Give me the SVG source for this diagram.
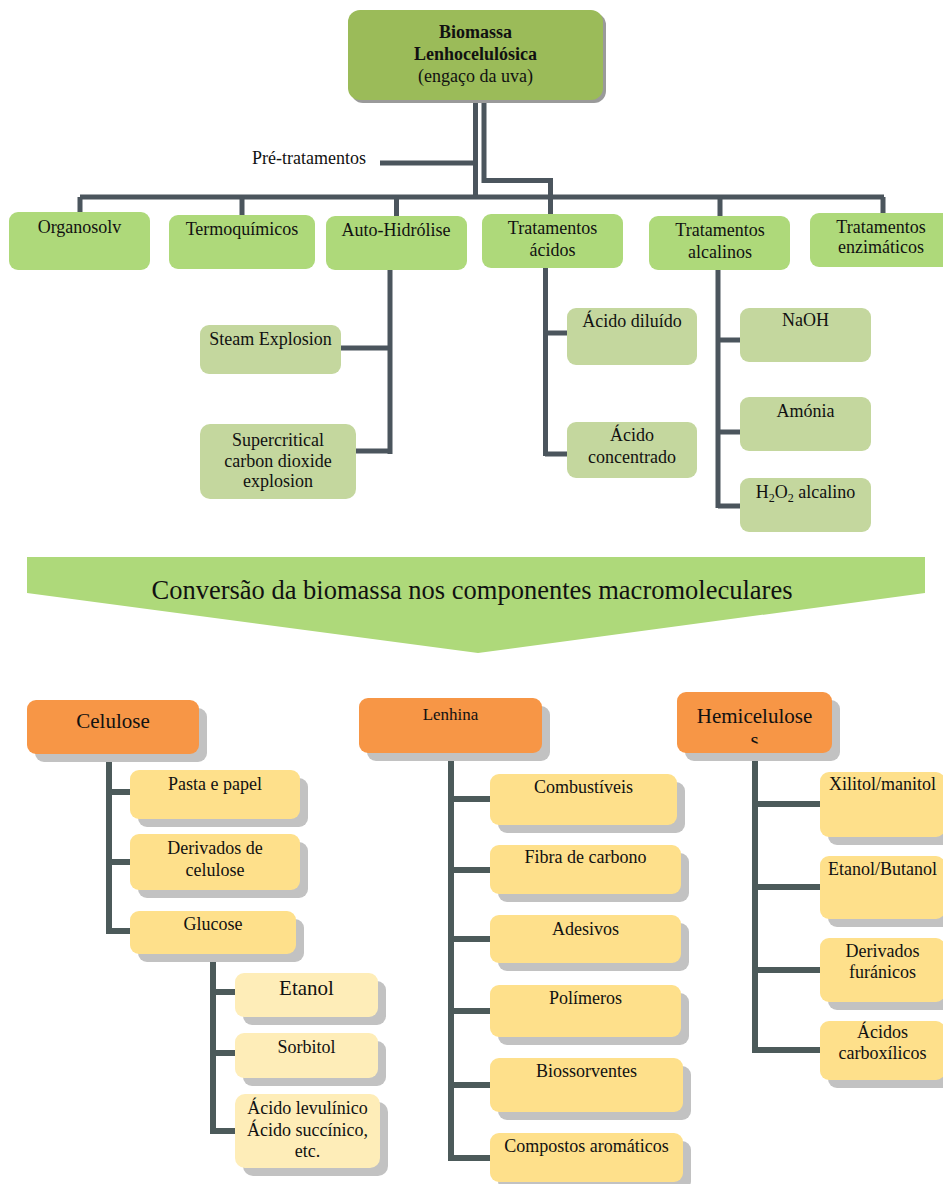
<svg xmlns="http://www.w3.org/2000/svg" width="943" height="1184" viewBox="0 0 943 1184">
<defs>
<style>
text{font-family:"Liberation Serif","Times New Roman",serif;font-size:18px;fill:#111;text-anchor:middle}
.b{font-weight:bold}
.big{font-size:21px}
.sm{font-size:17px}
.ban{font-size:26.5px}
.g1{fill:#9BBB59}
.g2{fill:#AED97A}
.g3{fill:#C4D79E}
.or{fill:#F79646}
.y1{fill:#FEE08B}
.y2{fill:#FEEDB8}
.sh{fill:#C2C2C2}
.shs{fill:#9A9A9A}
.c1{fill:none;stroke:#4B555D;stroke-width:5}
.c2{fill:none;stroke:#4C5A5A;stroke-width:6}
</style>
<clipPath id="hemiclip"><rect x="677" y="692" width="155" height="51.5"/></clipPath>
</defs>

<g id="connectors">
<path class="c1" d="M475.5,100V197M484,100V180.5H550.5V214"/>
<path class="c1" d="M380,163H475"/>
<path class="c1" stroke-width="6" d="M80,197H884"/>
<path class="c1" d="M80,197V212M242,197V215M396.5,197V216M720,197V216M883,197V213"/>
<path class="c1" stroke-width="6" d="M341,348H390M390,270V454M356,451H390"/>
<path class="c1" stroke-width="6" d="M545.5,268V456M545,333H567M545,454H567"/>
<path class="c1" stroke-width="6" d="M718,270V508M718,340H740M718,432H740M718,506H740"/>
<path class="c2" d="M109,754V931H130M109,792H130M109,862H130"/>
<path class="c2" d="M213,954V1131H235M213,992H235M213,1053H235"/>
<path class="c2" d="M451,753V1158H490M451,799H490M451,870H490M451,939H490M451,1011H490M451,1085H490"/>
<path class="c2" d="M755,753V1050H820M755,804H820M755,887H820M755,970H820"/>
</g>

<g id="biomassa">
<rect class="shs" x="351" y="13" width="255" height="90" rx="12"/>
<rect class="g1" x="348" y="10" width="255" height="90" rx="12"/>
<text class="b" x="475.5" y="38">Biomassa</text>
<text class="b" x="475.5" y="60">Lenhocelulósica</text>
<text x="475.5" y="82">(engaço da uva)</text>
</g>
<g id="pretratamentos"><text x="309" y="164">Pré-tratamentos</text></g>

<g id="organosolv"><rect class="g2" x="9" y="212" width="141" height="58" rx="9"/><text x="79.5" y="233">Organosolv</text></g>
<g id="termoquimicos"><rect class="g2" x="169" y="215" width="146" height="54" rx="9"/><text x="242" y="235">Termoquímicos</text></g>
<g id="autohidrolise"><rect class="g2" x="326" y="216" width="141" height="54" rx="9"/><text x="396" y="236">Auto-Hidrólise</text></g>
<g id="acidos"><rect class="g2" x="482" y="214" width="141" height="54" rx="9"/><text x="552.5" y="234">Tratamentos</text><text x="552.5" y="256">ácidos</text></g>
<g id="alcalinos"><rect class="g2" x="649" y="216" width="141" height="54" rx="9"/><text x="720" y="236">Tratamentos</text><text x="720" y="258">alcalinos</text></g>
<g id="enzimaticos"><rect class="g2" x="810" y="213" width="141" height="54" rx="9"/><text x="881" y="233">Tratamentos</text><text x="881" y="253">enzimáticos</text></g>

<g id="steam"><rect class="g3" x="200" y="325" width="141" height="49" rx="9"/><text x="270.5" y="345">Steam Explosion</text></g>
<g id="supercritical"><rect class="g3" x="200" y="424" width="156" height="75" rx="10"/><text x="278" y="446">Supercritical</text><text x="278" y="467">carbon dioxide</text><text x="278" y="487">explosion</text></g>
<g id="diluido"><rect class="g3" x="567" y="308" width="130" height="57" rx="9"/><text x="632" y="327">Ácido diluído</text></g>
<g id="concentrado"><rect class="g3" x="567" y="422" width="130" height="56" rx="9"/><text x="632" y="441">Ácido</text><text x="632" y="463">concentrado</text></g>
<g id="naoh"><rect class="g3" x="740" y="308" width="131" height="54" rx="9"/><text x="805.5" y="326">NaOH</text></g>
<g id="amonia"><rect class="g3" x="740" y="397" width="131" height="54" rx="9"/><text x="805.5" y="417">Amónia</text></g>
<g id="h2o2"><rect class="g3" x="740" y="478" width="131" height="54" rx="9"/><text x="805.5" y="498">H<tspan font-size="12" dy="4">2</tspan><tspan dy="-4">O</tspan><tspan font-size="12" dy="4">2</tspan><tspan dy="-4"> alcalino</tspan></text></g>

<g id="conversao">
<polygon class="g2" points="27,557 925,557 925,593 478,653 27,593"/>
<text class="ban" x="472" y="599">Conversão da biomassa nos componentes macromoleculares</text>
</g>

<g id="celulose"><rect class="sh" x="35" y="708" width="172" height="54" rx="9"/><rect class="or" x="27" y="700" width="172" height="54" rx="9"/><text class="big" x="113" y="728">Celulose</text></g>
<g id="pasta"><rect class="sh" x="138" y="778" width="170" height="49" rx="9"/><rect class="y1" x="130" y="770" width="170" height="49" rx="9"/><text x="215" y="790">Pasta e papel</text></g>
<g id="derivcel"><rect class="sh" x="138" y="842" width="170" height="56" rx="9"/><rect class="y1" x="130" y="834" width="170" height="56" rx="9"/><text x="215" y="854">Derivados de</text><text x="215" y="876">celulose</text></g>
<g id="glucose"><rect class="sh" x="138" y="919" width="166" height="43" rx="9"/><rect class="y1" x="130" y="911" width="166" height="43" rx="9"/><text x="213" y="930">Glucose</text></g>
<g id="etanol"><rect class="sh" x="243" y="981" width="143" height="44" rx="9"/><rect class="y2" x="235" y="973" width="143" height="44" rx="9"/><text class="big" x="306.5" y="995">Etanol</text></g>
<g id="sorbitol"><rect class="sh" x="243" y="1041" width="143" height="45" rx="9"/><rect class="y2" x="235" y="1033" width="143" height="45" rx="9"/><text x="306.5" y="1053">Sorbitol</text></g>
<g id="levulinico"><rect class="sh" x="243" y="1102" width="145" height="74" rx="10"/><rect class="y2" x="235" y="1094" width="145" height="74" rx="10"/><text x="307.5" y="1114">Ácido levulínico</text><text x="307.5" y="1136">Ácido succínico,</text><text x="307.5" y="1157">etc.</text></g>

<g id="lenhina"><rect class="sh" x="367" y="706" width="183" height="55" rx="9"/><rect class="or" x="359" y="698" width="183" height="55" rx="9"/><text class="sm" x="450.5" y="720">Lenhina</text></g>
<g id="combustiveis"><rect class="sh" x="498" y="782" width="187" height="51" rx="9"/><rect class="y1" x="490" y="774" width="187" height="51" rx="9"/><text x="583.5" y="793">Combustíveis</text></g>
<g id="fibra"><rect class="sh" x="498" y="853" width="191" height="49" rx="9"/><rect class="y1" x="490" y="845" width="191" height="49" rx="9"/><text x="585.5" y="863">Fibra de carbono</text></g>
<g id="adesivos"><rect class="sh" x="498" y="923" width="191" height="48" rx="9"/><rect class="y1" x="490" y="915" width="191" height="48" rx="9"/><text x="585.5" y="935">Adesivos</text></g>
<g id="polimeros"><rect class="sh" x="498" y="993" width="191" height="52" rx="9"/><rect class="y1" x="490" y="985" width="191" height="52" rx="9"/><text x="585.5" y="1004">Polímeros</text></g>
<g id="biossorventes"><rect class="sh" x="498" y="1066" width="193" height="54" rx="9"/><rect class="y1" x="490" y="1058" width="193" height="54" rx="9"/><text x="586.5" y="1077">Biossorventes</text></g>
<g id="aromaticos"><rect class="sh" x="498" y="1141" width="193" height="49" rx="9"/><rect class="y1" x="490" y="1133" width="193" height="49" rx="9"/><text x="586.5" y="1152">Compostos aromáticos</text></g>

<g id="hemicelulose"><rect class="sh" x="685" y="700" width="155" height="61" rx="9"/><rect class="or" x="677" y="692" width="155" height="61" rx="9"/><g clip-path="url(#hemiclip)"><text class="big" x="754.5" y="723">Hemicelulose</text><text class="big" x="754.5" y="747">s</text></g></g>
<g id="xilitol"><rect class="sh" x="828" y="780" width="125" height="65" rx="9"/><rect class="y1" x="820" y="772" width="125" height="65" rx="9"/><text x="882.5" y="790">Xilitol/manitol</text></g>
<g id="etanolbutanol"><rect class="sh" x="828" y="864" width="125" height="63" rx="9"/><rect class="y1" x="820" y="856" width="125" height="63" rx="9"/><text x="882.5" y="875">Etanol/Butanol</text></g>
<g id="furanicos"><rect class="sh" x="828" y="946" width="125" height="64" rx="9"/><rect class="y1" x="820" y="938" width="125" height="64" rx="9"/><text x="882.5" y="957">Derivados</text><text x="882.5" y="978">furánicos</text></g>
<g id="carboxilicos"><rect class="sh" x="828" y="1029" width="125" height="59" rx="9"/><rect class="y1" x="820" y="1021" width="125" height="59" rx="9"/><text x="882.5" y="1038">Ácidos</text><text x="882.5" y="1059">carboxílicos</text></g>
</svg>
